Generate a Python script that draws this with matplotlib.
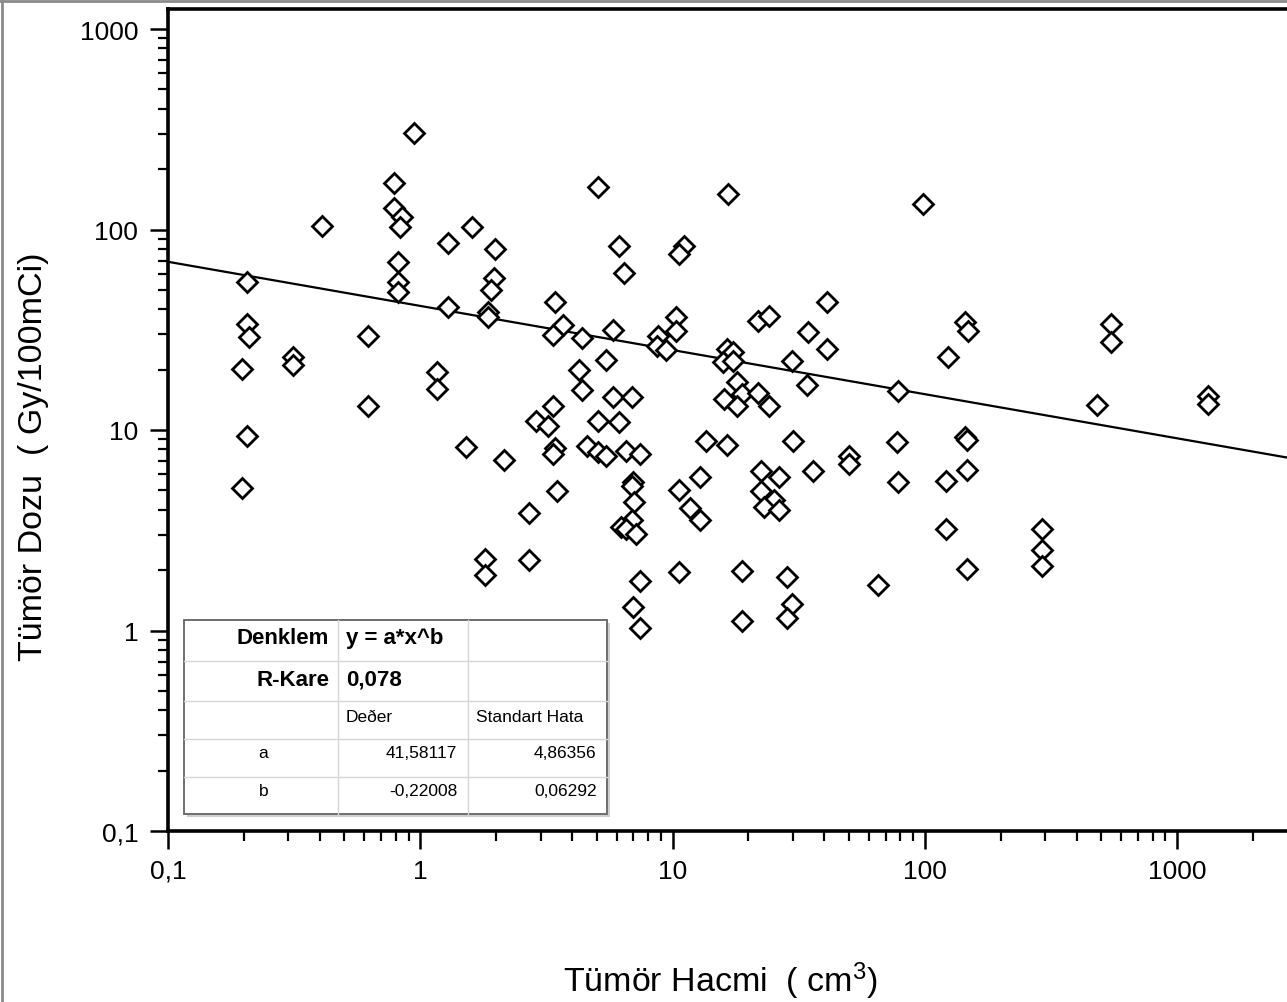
#!/usr/bin/env python3
import matplotlib
matplotlib.use("Agg")
import matplotlib.pyplot as plt
from matplotlib.lines import Line2D
from matplotlib.patches import Rectangle
from matplotlib.ticker import FixedLocator, FixedFormatter, LogLocator, NullFormatter
import numpy as np

plt.rcParams['font.family'] = ['Liberation Sans', 'DejaVu Sans']
plt.rcParams['mathtext.default'] = 'regular'

# Tumour volume (cm^3) and tumour dose (Gy/100mCi)
volume = [
    0.206, 0.206, 0.210, 0.197, 0.206, 0.197, 0.312, 0.312, 0.408, 0.622,
    0.622, 0.944, 0.785, 0.785, 0.849, 0.831, 0.816, 0.816, 0.816, 1.285,
    1.604, 1.984, 1.966, 1.908, 1.285, 1.861, 1.861, 1.162, 1.162, 1.518,
    2.154, 1.806, 1.806, 5.08, 16.6, 6.14, 11.1, 10.6, 6.44, 3.42,
    41.1, 10.3, 21.8, 24.2, 3.69, 3.37, 4.37, 5.79, 10.3, 8.78,
    8.66, 9.42, 34.5, 40.9, 16.5, 17.4, 15.8, 17.4, 29.7, 5.45,
    4.26, 4.37, 34.2, 18.1, 18.9, 16.0, 18.1, 21.9, 24.1, 3.35,
    2.88, 3.22, 5.79, 6.89, 5.08, 6.15, 13.6, 16.5, 30.0, 3.42,
    3.37, 4.57, 5.08, 5.45, 6.52, 7.43, 50.2, 50.2, 3.49, 2.70,
    2.70, 12.9, 10.6, 11.7, 12.9, 22.4, 26.5, 36.0, 22.4, 25.3,
    23.1, 26.5, 6.99, 6.89, 7.05, 6.89, 6.25, 6.54, 7.17, 7.43,
    6.99, 7.43, 10.6, 18.9, 28.5, 29.8, 28.5, 18.9, 98.1, 145,
    148, 124, 549, 549, 78.1, 481, 1327, 1327, 77.4, 145,
    147, 147, 78.6, 121, 121, 147, 65.4, 291, 291, 291,
]
dose = [
    54.5, 33.8, 29.2, 20.1, 9.30, 5.14, 23.0, 21.2, 103.8, 29.3,
    13.1, 302, 170, 128, 116, 103, 69.1, 54.5, 48.6, 85.4,
    103, 79.9, 57.5, 49.9, 40.9, 38.6, 36.4, 19.5, 16.1, 8.26,
    7.09, 2.27, 1.89, 162, 151, 82.5, 83.0, 75.7, 60.4, 43.6,
    43.6, 36.7, 35.1, 37.2, 33.4, 29.9, 28.7, 31.5, 31.3, 29.5,
    26.3, 25.1, 30.9, 25.4, 25.4, 24.4, 21.9, 22.2, 22.0, 22.4,
    20.0, 15.9, 16.8, 17.3, 15.1, 14.3, 13.2, 15.3, 13.1, 13.2,
    11.1, 10.5, 14.6, 14.6, 11.1, 11.0, 8.84, 8.42, 8.84, 8.10,
    7.59, 8.29, 7.80, 7.39, 7.88, 7.59, 7.44, 6.73, 4.98, 3.84,
    2.25, 5.81, 5.02, 4.07, 3.56, 6.22, 5.81, 6.22, 4.95, 4.49,
    4.12, 3.99, 5.48, 5.28, 4.36, 3.57, 3.29, 3.21, 3.03, 1.77,
    1.31, 1.03, 1.95, 1.99, 1.84, 1.35, 1.16, 1.11, 134, 34.4,
    31.3, 23.2, 33.8, 27.6, 15.7, 13.3, 14.7, 13.5, 8.68, 9.26,
    8.92, 6.32, 5.48, 5.55, 3.21, 2.03, 1.69, 3.21, 2.52, 2.10,
]

# power fit y = a * x^b
fit_a = 41.58117
fit_b = -0.22008

major_ticks = [0.1, 1, 10, 100, 1000]
major_labels = ['0,1', '1', '10', '100', '1000']

table_rows = [
    ['Denklem', 'y = a*x^b', ''],
    ['R-Kare', '0,078', ''],
    ['', 'Deðer', 'Standart Hata'],
    ['a', '41,58117', '4,86356'],
    ['b', '-0,22008', '0,06292'],
]


def style_log_axis(axis) -> None:
    axis.set_major_locator(FixedLocator(major_ticks))
    axis.set_major_formatter(FixedFormatter(major_labels))
    axis.set_minor_locator(LogLocator(base=10, subs=np.arange(2, 10), numticks=20))
    axis.set_minor_formatter(NullFormatter())


def draw_table(fig) -> None:
    # table box in pixel units, origin at its top-left corner
    W, H = 422.4, 194.3
    tax = fig.add_axes([184.3 / 1287, 1 - 815 / 1003, W / 1287, H / 1003])
    tax.set_xlim(0, W)
    tax.set_ylim(H, 0)
    tax.axis('off')

    tax.add_patch(Rectangle((3, 3), W, H, facecolor='#cfcfcf', edgecolor='none', clip_on=False, zorder=0))
    tax.add_patch(Rectangle((0, 0), W, H, facecolor='white', edgecolor='#6e6e6e', lw=1.4, clip_on=False, zorder=1))

    col_x = [154, 283.4]
    row_y = [41.6, 81.6, 119.3, 157.6]
    for cx in col_x:
        tax.plot([cx, cx], [0, H], color='#d6d6d6', lw=1, zorder=2, clip_on=False)
    for ry in row_y:
        tax.plot([0, W], [ry, ry], color='#d6d6d6', lw=1, zorder=2, clip_on=False)

    big = dict(fontsize=16, fontweight='bold', va='center', zorder=3)
    small = dict(fontsize=12.5, va='center', zorder=3)
    centers = [17.5, 59.5, 96.6, 133.3, 171.3]

    tax.text(145, centers[0], table_rows[0][0], ha='right', **big)
    tax.text(161.5, centers[0], table_rows[0][1], ha='left', **big)
    tax.text(145, centers[1], table_rows[1][0], ha='right', **big)
    tax.text(161.5, centers[1], table_rows[1][1], ha='left', **big)
    tax.text(161.5, centers[2], table_rows[2][1], ha='left', **small)
    tax.text(291.7, centers[2], table_rows[2][2], ha='left', **small)
    for r in (3, 4):
        tax.text(79, centers[r], table_rows[r][0], ha='center', **small)
        tax.text(273, centers[r], table_rows[r][1], ha='right', **small)
        tax.text(412.4, centers[r], table_rows[r][2], ha='right', **small)


def main() -> int:
    fig = plt.figure(figsize=(12.87, 10.03), dpi=100)
    fig.patch.set_facecolor('white')

    # axes: x from 0.1 at px 168, y from 0.1 at px 832 (bottom) to top at px 9.5
    ax = fig.add_axes([168 / 1287, 1 - 832 / 1003, 1 - 168 / 1287, (832 - 9.5) / 1003])
    ax.set_xscale('log')
    ax.set_yscale('log')
    ax.set_xlim(0.1, 10 ** (-1 + (1287 - 168) / 252.25))
    ax.set_ylim(0.1, 10 ** (3 + (30 - 9.5) / 200.5))

    xs = np.array(volume)
    ys = np.array(dose)
    ax.plot(xs, ys, linestyle='none', marker='D', ms=10, mfc='white', mec='black', mew=2.0,
            zorder=3, clip_on=False)

    xf = np.logspace(-1, np.log10(ax.get_xlim()[1]), 200)
    ax.plot(xf, fit_a * xf ** fit_b, color='black', lw=1.6, zorder=2)

    style_log_axis(ax.xaxis)
    style_log_axis(ax.yaxis)
    ax.tick_params(which='major', direction='out', length=13, width=1.8, labelsize=19,
                   top=False, right=False)
    ax.tick_params(which='minor', direction='out', length=7, width=1.6, top=False, right=False)
    ax.tick_params(axis='x', which='major', pad=7)
    ax.tick_params(axis='y', which='major', pad=8.5)

    for side in ('left', 'bottom', 'top'):
        ax.spines[side].set_linewidth(2.6)
        ax.spines[side].set_color('black')
    ax.spines['right'].set_visible(False)

    fig.text(34 / 1287, 1 - 457 / 1003, 'Tümör Dozu  ( Gy/100mCi)', rotation=90,
             ha='center', va='center', fontsize=24.5)
    fig.text(720 / 1287, 1 - 992 / 1003, 'Tümör Hacmi  ( cm$^{3}$)', ha='center',
             va='baseline', fontsize=24.5)

    draw_table(fig)

    # window border of the original screenshot
    fig.add_artist(Line2D([0.0015, 0.0015], [0, 1], color='#8a8a8a', lw=2))
    fig.add_artist(Line2D([0, 1], [0.998, 0.998], color='#8a8a8a', lw=2))

    fig.savefig('out.png', dpi=100)
    return 0


if __name__ == "__main__":
    raise SystemExit(main())
